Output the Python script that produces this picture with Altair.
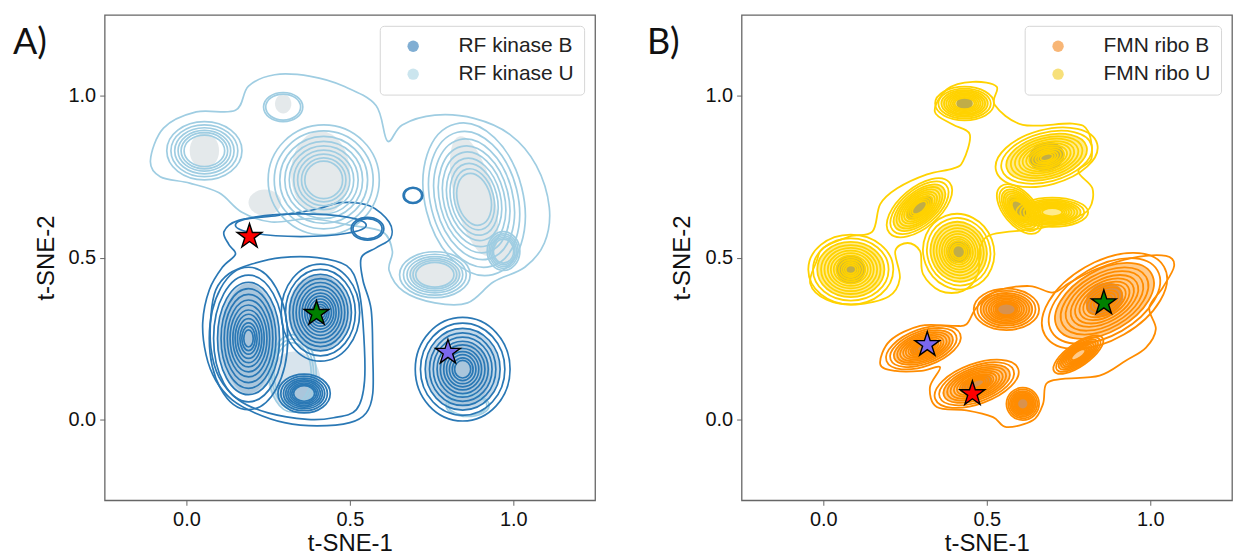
import altair as alt
import pandas as pd

FONT = "Liberation Sans"
W, H = 492, 487
DOM = [-0.25, 1.25]
PXX = W / (DOM[1] - DOM[0])
PXY = H / (DOM[1] - DOM[0])
TICKS = [0.0, 0.5, 1.0]
# relative contour levels (fraction of a cluster's outer radius)
LEVELS = [1.0, 0.89, 0.79, 0.7, 0.62, 0.54, 0.47, 0.4, 0.34, 0.28, 0.22, 0.17, 0.12, 0.08]

STAR = ("M0,-1L0.2245,-0.309L0.9511,-0.309L0.3633,0.118L0.5878,0.809L0,0.382"
        "L-0.5878,0.809L-0.3633,0.118L-0.9511,-0.309L-0.2245,-0.309Z")
STAR_FILL = ["#ff0000", "#008000", "#7b68ee"]

# ---------------- Panel A : RF kinase ----------------
A_NAMES = ["RF kinase B", "RF kinase U"]
A_LINE = {"B": "#2a78b5", "U": "#9fcde2"}
A_LEGEND = ["#80aed3", "#cbe5ee"]
A_CL_SER = ["U", "U", "U", "U", "U", "U", "U", "U", "B", "B", "B", "B", "B", "B", "B"]
A_CL_X = [0.055, 0.296, 0.42, 0.88, 0.76, 0.97, 0.325, 0.86, 0.19, 0.41, 0.36, 0.554, 0.693, 0.845, 0.35]
A_CL_Y = [0.83, 0.965, 0.74, 0.68, 0.447, 0.52, 0.142, 0.044, 0.25, 0.33, 0.08, 0.589, 0.692, 0.155, 0.60]
A_CL_RX = [0.115, 0.06, 0.17, 0.15, 0.108, 0.05, 0.072, 0.066, 0.12, 0.12, 0.08, 0.05, 0.03, 0.145, 0.2]
A_CL_RY = [0.09, 0.045, 0.17, 0.24, 0.071, 0.06, 0.12, 0.035, 0.22, 0.15, 0.06, 0.035, 0.025, 0.16, 0.035]
A_CL_ANG = [0, 0, 0, 346, 0, 0, 0, 0, 0, 0, 0, 0, 0, 0, 0]
A_CL_N = [6, 2, 9, 9, 6, 5, 3, 2, 13, 13, 8, 2, 2, 12, 1]

A_ENV_U_X = [-0.11, -0.07, 0.03, 0.15, 0.19, 0.27, 0.38, 0.48, 0.58, 0.615, 0.66, 0.76, 0.88, 0.99,
             1.07, 1.11, 1.095, 1.035, 0.94, 0.86, 0.76, 0.665, 0.62, 0.63, 0.60, 0.50, 0.38, 0.26,
             0.17, 0.10, 0.01, -0.08]
A_ENV_U_Y = [0.80, 0.90, 0.95, 0.955, 1.03, 1.065, 1.06, 1.03, 0.97, 0.86, 0.91, 0.94, 0.93, 0.88,
             0.785, 0.655, 0.545, 0.47, 0.425, 0.36, 0.36, 0.395, 0.46, 0.52, 0.58, 0.60, 0.62, 0.61,
             0.64, 0.70, 0.73, 0.75]
A_ENV_B1_X = [0.15, 0.11, 0.07, 0.05, 0.06, 0.09, 0.14, 0.21, 0.30, 0.40, 0.50, 0.55, 0.57, 0.57,
              0.565, 0.54, 0.535, 0.58, 0.625, 0.62, 0.56, 0.47, 0.40, 0.28, 0.16, 0.115, 0.13]
A_ENV_B1_Y = [0.51, 0.47, 0.40, 0.30, 0.20, 0.12, 0.06, 0.02, -0.01, -0.02, -0.01, 0.02, 0.08, 0.20,
              0.34, 0.43, 0.50, 0.53, 0.56, 0.61, 0.66, 0.67, 0.65, 0.63, 0.615, 0.58, 0.54]
A_ENV_B2_X = [0.13, 0.20, 0.29, 0.40, 0.49, 0.525, 0.54, 0.545, 0.52, 0.45, 0.37, 0.25, 0.16, 0.10,
              0.075, 0.075, 0.09]
A_ENV_B2_Y = [0.45, 0.48, 0.50, 0.50, 0.475, 0.41, 0.30, 0.12, 0.03, 0.005, 0.0, 0.02, 0.06, 0.13,
              0.22, 0.32, 0.40]

A_CORE_SER = ["U", "U", "U", "U", "U", "U", "U", "B", "B", "B", "B"]
A_CORE_X = [0.055, 0.296, 0.41, 0.88, 0.76, 0.97, 0.24, 0.19, 0.40, 0.33, 0.85]
A_CORE_Y = [0.83, 0.975, 0.76, 0.69, 0.45, 0.52, 0.67, 0.25, 0.33, 0.12, 0.14]
A_CORE_RX = [0.045, 0.025, 0.09, 0.06, 0.08, 0.03, 0.05, 0.08, 0.09, 0.08, 0.08]
A_CORE_RY = [0.055, 0.03, 0.13, 0.19, 0.045, 0.04, 0.04, 0.17, 0.12, 0.09, 0.10]
A_CORE_ANG = [0, 0, 0, 346, 0, 0, 0, 0, 0, 0, 0]
A_CORE_COL = {"U": "#8499a4", "B": "#4f84ad"}

A_STAR_X = [0.193, 0.398, 0.80]
A_STAR_Y = [0.565, 0.327, 0.207]

# ---------------- Panel B : FMN ribo ----------------
B_NAMES = ["FMN ribo B", "FMN ribo U"]
B_LINE = {"B": "#ff8c00", "U": "#ffd200"}
B_LEGEND = ["#f8b676", "#f7e07a"]
B_CL_SER = ["U", "U", "U", "U", "U", "U", "U", "B", "B", "B", "B", "B", "B"]
B_CL_X = [0.084, 0.294, 0.414, 0.432, 0.683, 0.60, 0.70, 0.306, 0.469, 0.56, 0.86, 0.61, 0.78]
B_CL_Y = [0.463, 0.654, 0.518, 0.976, 0.81, 0.65, 0.64, 0.222, 0.11, 0.34, 0.366, 0.048, 0.20]
B_CL_RX = [0.13, 0.12, 0.108, 0.09, 0.16, 0.09, 0.11, 0.12, 0.135, 0.10, 0.21, 0.05, 0.09]
B_CL_RY = [0.108, 0.062, 0.118, 0.052, 0.085, 0.05, 0.045, 0.057, 0.062, 0.064, 0.12, 0.05, 0.035]
B_CL_ANG = [0, 320, 340, 0, 345, 50, 0, 340, 340, 0, 330, 0, 325]
B_CL_N = [13, 11, 12, 9, 13, 9, 10, 12, 12, 10, 14, 9, 10]

B_ENV_U_X = [-0.02, 0.0, 0.08, 0.15, 0.174, 0.226, 0.317, 0.396, 0.427, 0.448, 0.396, 0.341, 0.378,
             0.457, 0.53, 0.524, 0.61, 0.762, 0.81, 0.82, 0.78, 0.823, 0.814, 0.762, 0.662, 0.518,
             0.479, 0.473, 0.427, 0.357, 0.305, 0.296, 0.258, 0.22, 0.234, 0.20, 0.10, 0.01, -0.04]
B_ENV_U_Y = [0.49, 0.53, 0.565, 0.58, 0.665, 0.714, 0.757, 0.775, 0.797, 0.88, 0.911, 0.951, 1.02,
             1.043, 1.028, 0.972, 0.91, 0.914, 0.89, 0.806, 0.766, 0.714, 0.652, 0.62, 0.59, 0.572,
             0.53, 0.449, 0.397, 0.397, 0.449, 0.52, 0.545, 0.52, 0.436, 0.38, 0.355, 0.37, 0.42]
B_ENV_B_X = [0.174, 0.204, 0.296, 0.397, 0.438, 0.469, 0.53, 0.631, 0.702, 0.753, 0.834, 0.946, 1.048,
             1.073, 1.038, 0.997, 1.017, 0.987, 0.926, 0.845, 0.733, 0.682, 0.672, 0.641, 0.56, 0.519,
             0.438, 0.347, 0.326, 0.357, 0.30, 0.22]
B_ENV_B_Y = [0.171, 0.243, 0.289, 0.289, 0.294, 0.346, 0.397, 0.412, 0.392, 0.422, 0.464, 0.499, 0.505,
             0.474, 0.407, 0.346, 0.279, 0.222, 0.182, 0.135, 0.125, 0.11, 0.048, -0.003, -0.024, 0.007,
             0.028, 0.038, 0.099, 0.161, 0.15, 0.15]

B_CORE_SER = ["U", "U", "U", "U", "U", "U", "B", "B", "B", "B", "B"]
B_CORE_X = [0.084, 0.683, 0.294, 0.414, 0.60, 0.432, 0.86, 0.306, 0.469, 0.56, 0.61]
B_CORE_Y = [0.463, 0.812, 0.654, 0.518, 0.65, 0.976, 0.37, 0.222, 0.11, 0.34, 0.048]
B_CORE_RX = [0.045, 0.055, 0.05, 0.035, 0.045, 0.025, 0.06, 0.04, 0.05, 0.035, 0.025]
B_CORE_RY = [0.045, 0.045, 0.025, 0.035, 0.025, 0.02, 0.05, 0.02, 0.025, 0.025, 0.03]
B_CORE_ANG = [0, 345, 320, 0, 50, 0, 330, 340, 340, 0, 0]
B_CORE_COL = {"U": "#8c7a10", "B": "#b8641c"}

B_STAR_X = [0.318, 0.456, 0.858]
B_STAR_Y = [0.231, 0.079, 0.36]
B_STAR_FILL = ["#7b68ee", "#ff0000", "#008000"]


def ellipse_path(a):
    k = 0.5523
    ka = k * a
    return (f"M1,0C1,{ka:.4f} {k},{a:.4f} 0,{a:.4f}"
            f"C{-k},{a:.4f} -1,{ka:.4f} -1,0"
            f"C-1,{-ka:.4f} {-k},{-a:.4f} 0,{-a:.4f}"
            f"C{k},{-a:.4f} 1,{-ka:.4f} 1,0Z")


def ellipse_row(x, y, rx, ry, ang, f, col):
    return dict(x=x, y=y, size=(2 * rx * f * PXX) ** 2,
                shape=ellipse_path((ry * PXY) / (rx * PXX)), ang=ang, col=col)


def panel(label, label_dx, names, line_col, legend_col,
          cl, envs, cores, core_col, core_op, fill_op, stars, star_fill, ring_w):
    X = alt.X("x:Q", scale=alt.Scale(domain=DOM, nice=False, zero=False),
              axis=alt.Axis(values=TICKS, format=".1f", title="t-SNE-1", titlePadding=2))
    Y = alt.Y("y:Q", scale=alt.Scale(domain=DOM, nice=False, zero=False),
              axis=alt.Axis(values=TICKS, format=".1f", title="t-SNE-2", titlePadding=10))
    ser, cx, cy, rx, ry, ang, n = cl

    fill_rows, ring_rows = [], []
    for s, x, y, a, b, t, k in zip(ser, cx, cy, rx, ry, ang, n):
        for f in LEVELS[:k]:
            ring_rows.append(ellipse_row(x, y, a, b, t, f, line_col[s]))
        if fill_op[s] > 0 and k >= 7:
            r = ellipse_row(x, y, a, b, t, LEVELS[2], line_col[s])
            r["op"] = fill_op[s]
            fill_rows.append(r)

    cs, cxx, cyy, crx, cry, cang = cores
    core_rows = [ellipse_row(x, y, a, b, t, 1.0, core_col[s])
                 for s, x, y, a, b, t in zip(cs, cxx, cyy, crx, cry, cang)]

    env_rows = []
    for e, (s, xs, ys) in enumerate(envs):
        for i, (x, y) in enumerate(zip(xs, ys)):
            env_rows.append(dict(env=e, i=i, x=x, y=y, col=line_col[s]))

    sym_enc = dict(size=alt.Size("size:Q", scale=None),
                   shape=alt.Shape("shape:N", scale=None),
                   angle=alt.Angle("ang:Q", scale=None))

    layers = []
    if fill_rows:
        layers.append(alt.Chart(pd.DataFrame(fill_rows)).mark_point(filled=True, strokeWidth=0).encode(
            X, Y, fill=alt.Fill("col:N", scale=None), opacity=alt.Opacity("op:Q", scale=None), **sym_enc))
    layers.append(alt.Chart(pd.DataFrame(core_rows)).mark_point(filled=True, strokeWidth=0, opacity=core_op).encode(
        X, Y, fill=alt.Fill("col:N", scale=None), **sym_enc))
    layers.append(alt.Chart(pd.DataFrame(env_rows)).mark_line(
        interpolate="cardinal-closed", strokeWidth=ring_w).encode(
        X, Y, order="i:Q", detail="env:N", stroke=alt.Stroke("col:N", scale=None)))
    layers.append(alt.Chart(pd.DataFrame(ring_rows)).mark_point(
        filled=False, strokeWidth=ring_w, opacity=1).encode(
        X, Y, stroke=alt.Stroke("col:N", scale=None), **sym_enc))
    layers.append(alt.Chart(pd.DataFrame({"x": stars[0], "y": stars[1], "c": star_fill})).mark_point(
        shape=STAR, size=680, filled=True, stroke="black", strokeWidth=1.4, opacity=1).encode(
        X, Y, fill=alt.Fill("c:N", scale=None)))
    layers.append(alt.Chart(pd.DataFrame({"series": names, "x": cx[:2], "y": cy[:2]})).mark_circle(
        opacity=0).encode(
        X, Y, color=alt.Color("series:N", scale=alt.Scale(domain=names, range=legend_col),
                              legend=alt.Legend(orient="top-right", offset=11, title=None,
                                                labelFont=FONT, labelFontSize=21, labelColor="#222",
                                                symbolType="circle", symbolSize=130,
                                                symbolStrokeWidth=0, symbolOpacity=1,
                                                symbolOffset=13, labelOffset=35, rowPadding=6,
                                                padding=10, strokeColor="#d6d6d6",
                                                fillColor="white", cornerRadius=4))))
    layers.append(alt.Chart(pd.DataFrame({"t": [label]})).mark_text(
        font="Lato", fontSize=36, align="left", baseline="alphabetic", color="#111").encode(
        text="t:N", x=alt.value(label_dx), y=alt.value(39)))
    return alt.layer(*layers).properties(width=W, height=H)


pa = panel("A)", -92, A_NAMES, A_LINE, A_LEGEND,
           (A_CL_SER, A_CL_X, A_CL_Y, A_CL_RX, A_CL_RY, A_CL_ANG, A_CL_N),
           [("U", A_ENV_U_X, A_ENV_U_Y), ("B", A_ENV_B1_X, A_ENV_B1_Y), ("B", A_ENV_B2_X, A_ENV_B2_Y)],
           (A_CORE_SER, A_CORE_X, A_CORE_Y, A_CORE_RX, A_CORE_RY, A_CORE_ANG), A_CORE_COL, 0.22,
           {"U": 0.0, "B": 0.28}, (A_STAR_X, A_STAR_Y), STAR_FILL, 1.7)

pb = panel("B)", -95, B_NAMES, B_LINE, B_LEGEND,
           (B_CL_SER, B_CL_X, B_CL_Y, B_CL_RX, B_CL_RY, B_CL_ANG, B_CL_N),
           [("U", B_ENV_U_X, B_ENV_U_Y), ("B", B_ENV_B_X, B_ENV_B_Y)],
           (B_CORE_SER, B_CORE_X, B_CORE_Y, B_CORE_RX, B_CORE_RY, B_CORE_ANG), B_CORE_COL, 0.55,
           {"U": 0.45, "B": 0.45}, (B_STAR_X, B_STAR_Y), B_STAR_FILL, 1.8)

chart = alt.hconcat(pa, pb, spacing=50).resolve_scale(color="independent").resolve_legend(
    color="independent").properties(
    padding={"left": 12, "top": 13, "right": 0, "bottom": 0}
).configure_view(stroke="#666666", strokeWidth=1.3).configure_axis(
    labelFont=FONT, labelFontSize=20, labelColor="#111111",
    titleFont=FONT, titleFontSize=24, titleFontWeight="normal", titleColor="#111111",
    tickColor="#666666", tickSize=5, domain=False, grid=False, labelPadding=4)

chart.save("out.html", embed_options={"renderer": "svg", "actions": False})
